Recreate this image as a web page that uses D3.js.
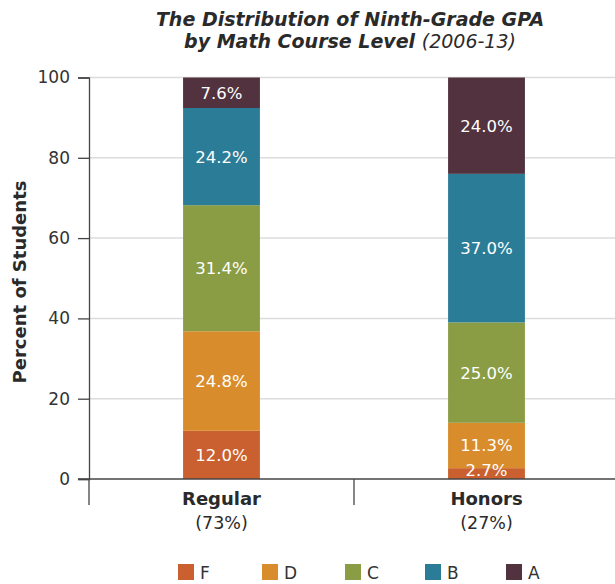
<html>
<script src='https://d3js.org/d3.v7.min.js'></script>
<style>
body {margin: 0; background: white;}
text {font-family: 'DejaVu Sans', sans-serif;}
</style>
<body>
<svg id="chart" width=615 height=584></svg>
<script>
var categories = ['Regular', 'Honors']
var shares = ['(73%)', '(27%)']
var grades = ['F', 'D', 'C', 'B', 'A']
var gradeColors = ['#ca602f', '#d98c2b', '#8a9d44', '#2b7d97', '#52323e']
var regularValues = [12.0, 24.8, 31.4, 24.2, 7.6]
var honorsValues = [2.7, 11.3, 25.0, 37.0, 24.0]
var yTicks = [0, 20, 40, 60, 80, 100]

var svg = d3.select('#chart')

var x = d3.scaleBand().domain(categories).range([89, 619]).paddingInner(0.71).paddingOuter(0.355)
var y = d3.scaleLinear().domain([0, 100]).range([479, 77.5])

// gridlines
svg.append('g')
	.selectAll('line')
	.data(yTicks.slice(1))
	.enter()
	.append('line')
	.attr('x1', 89).attr('x2', 615)
	.attr('y1', function(d) { return y(d) })
	.attr('y2', function(d) { return y(d) })
	.attr('stroke', '#dcdcdc')
	.attr('stroke-width', 1.5)

// stacked bars
var rows = [regularValues, honorsValues]
rows.forEach(function(vals, ci) {
	var base = 0
	var segs = vals.map(function(v, i) {
		var s = {cat: categories[ci], grade: grades[i], y0: base, y1: base + v, v: v, i: i}
		base += v
		return s
	})
	var g = svg.append('g')
	g.selectAll('rect')
		.data(segs)
		.enter()
		.append('rect')
		.attr('x', function(d) { return x(d.cat) })
		.attr('width', x.bandwidth())
		.attr('y', function(d) { return y(d.y1) })
		.attr('height', function(d) { return y(d.y0) - y(d.y1) })
		.attr('fill', function(d) { return gradeColors[d.i] })
	g.selectAll('text')
		.data(segs)
		.enter()
		.append('text')
		.attr('x', function(d) { return x(d.cat) + x.bandwidth() / 2 })
		.attr('y', function(d) {
			var c = (y(d.y0) + y(d.y1)) / 2 + 6
			return Math.min(c, y(0) - 3)
		})
		.attr('text-anchor', 'middle')
		.attr('fill', 'white')
		.attr('font-size', 16.5)
		.text(function(d) { return d.v.toFixed(1) + '%' })
})

// y axis
var yAxis = svg.append('g')
	.attr('transform', 'translate(89,0)')
	.call(d3.axisLeft(y).tickValues(yTicks).tickSize(11).tickPadding(8))
yAxis.select('.domain').attr('stroke', '#444').attr('stroke-width', 1.3)
yAxis.selectAll('.tick line').attr('stroke', '#444').attr('stroke-width', 1.3)
yAxis.selectAll('.tick text').attr('font-size', 17).attr('fill', '#333').attr('font-family', 'DejaVu Sans, sans-serif')

// baseline and separators
svg.append('line')
	.attr('x1', 78).attr('x2', 615)
	.attr('y1', y(0)).attr('y2', y(0))
	.attr('stroke', '#444').attr('stroke-width', 1.3)
svg.append('g')
	.selectAll('line')
	.data([89, 354])
	.enter()
	.append('line')
	.attr('x1', function(d) { return d }).attr('x2', function(d) { return d })
	.attr('y1', y(0)).attr('y2', 505)
	.attr('stroke', '#444').attr('stroke-width', 1.3)

// category labels
svg.append('g')
	.selectAll('text')
	.data(categories)
	.enter()
	.append('text')
	.attr('x', function(d) { return x(d) + x.bandwidth() / 2 })
	.attr('y', 505)
	.attr('text-anchor', 'middle')
	.attr('font-size', 18)
	.attr('font-weight', 'bold')
	.attr('fill', '#2a2a2a')
	.text(function(d) { return d })
svg.append('g')
	.selectAll('text')
	.data(shares)
	.enter()
	.append('text')
	.attr('x', function(d, i) { return x(categories[i]) + x.bandwidth() / 2 })
	.attr('y', 529)
	.attr('text-anchor', 'middle')
	.attr('font-size', 17.5)
	.attr('fill', '#2a2a2a')
	.text(function(d) { return d })

// y label
svg.append('text')
	.attr('transform', 'translate(26,282) rotate(-90)')
	.attr('text-anchor', 'middle')
	.attr('font-size', 18)
	.attr('font-weight', 'bold')
	.attr('fill', '#2a2a2a')
	.text('Percent of Students')

// title
svg.append('text')
	.attr('x', 350).attr('y', 26)
	.attr('text-anchor', 'middle')
	.attr('font-size', 19)
	.attr('font-weight', 'bold')
	.attr('font-style', 'italic')
	.attr('fill', '#2a2a2a')
	.text('The Distribution of Ninth-Grade GPA')
var t2 = svg.append('text')
	.attr('x', 350).attr('y', 48)
	.attr('text-anchor', 'middle')
	.attr('font-size', 19)
	.attr('font-style', 'italic')
	.attr('fill', '#2a2a2a')
t2.append('tspan').attr('font-weight', 'bold').text('by Math Course Level ')
t2.append('tspan').text('(2006-13)')

// legend
var legendX = [178, 262, 345, 425, 506]
var lg = svg.append('g')
	.selectAll('g')
	.data(grades)
	.enter()
	.append('g')
	.attr('transform', function(d, i) { return 'translate(' + legendX[i] + ',564)' })
lg.append('rect')
	.attr('width', 16).attr('height', 16)
	.attr('fill', function(d, i) { return gradeColors[i] })
lg.append('text')
	.attr('x', 22).attr('y', 15)
	.attr('font-size', 17)
	.attr('fill', '#333')
	.text(function(d) { return d })
</script>
</body>
</html>
